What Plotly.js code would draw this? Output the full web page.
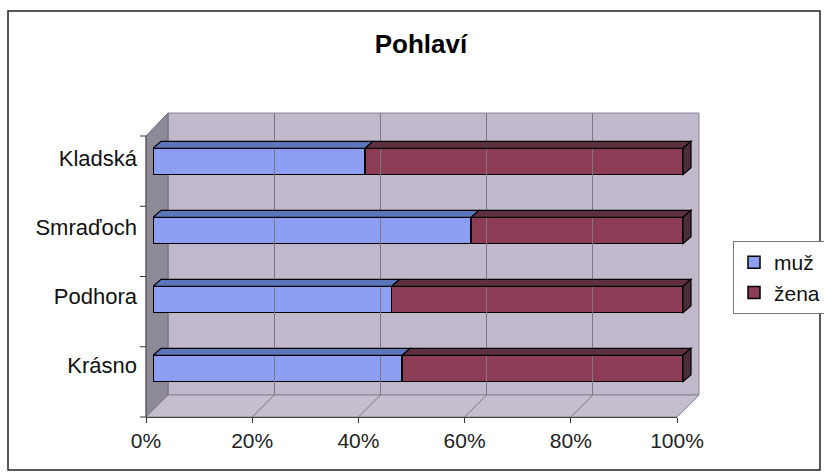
<!DOCTYPE html>
<html>
<head>
<meta charset="utf-8">
<script src="https://cdn.plot.ly/plotly-3.0.1.min.js"></script>
<style>html,body{margin:0;padding:0;background:#fff}#chart{width:824px;height:472px}</style>
</head>
<body>
<div id="chart"></div>
<script>
// ---- data ----
var categories = ['Krásno', 'Podhora', 'Smraďoch', 'Kladská'];
var muz  = [47, 45, 60, 40];
var zena = [53, 55, 40, 60];
var seriesNames = ['muž', 'žena'];
var tickVals = [0, 0.2, 0.4, 0.6, 0.8, 1];
var tickLabels = ['0%', '20%', '40%', '60%', '80%', '100%'];

// ---- geometry helpers (pixels -> paper) ----
var W = 824, H = 472;
function px(x){ return x / W; }
function py(y){ return 1 - y / H; }

var FONT = 'Liberation Sans, Arial, sans-serif';
var colMuz = '#8c9ff2', colZena = '#8c3d55';
var colMuzTop = '#5b76bb', colZenaTop = '#5f3042', colSide = '#4a2e3a';
var wallCol = '#c1b8cb', floorCol = '#c6bece', leftWallCol = '#8e8a97', gridCol = '#7c7784';

// planes
var front = {x0:146, x1:677, y0:136, y1:417};
var back  = {x0:168, x1:699, y0:113, y1:395};
// bar plane
var barX0 = 153, barUnit = 530, xMax = 1.06;
var barYTop = 127, barYBot = 403; // covers -0.5..3.5
var barW = 0.38;
var dxPx = 8, dyPx = 7;
var dx = dxPx / barUnit, dy = dyPx / ((barYBot - barYTop) / 4);

var yPos = categories.map(function(c, i){ return i; });
var fm = muz.map(function(v){ return v / 100; });
var fz = zena.map(function(v){ return v / 100; });

var traces = [
  {type:'bar', orientation:'h', name:seriesNames[0], x:fm, y:yPos, width:barW,
   marker:{color:colMuz, line:{color:'#000', width:1.5}}, xaxis:'x', yaxis:'y',
   legendgroup:'a', hoverinfo:'skip'},
  {type:'bar', orientation:'h', name:seriesNames[1], x:fz, y:yPos, width:barW,
   marker:{color:colZena, line:{color:'#000', width:1.5}}, xaxis:'x', yaxis:'y',
   legendgroup:'b', hoverinfo:'skip'}
];

var shapes = [];
// back wall
shapes.push({type:'rect', xref:'paper', yref:'paper', x0:px(back.x0), x1:px(back.x1), y0:py(back.y1), y1:py(back.y0),
  fillcolor:wallCol, line:{color:'#8a8592', width:1}, layer:'below'});
// floor
shapes.push({type:'path', xref:'paper', yref:'paper', layer:'below',
  path:'M'+px(front.x0)+','+py(front.y1)+' L'+px(front.x1)+','+py(front.y1)+' L'+px(back.x1)+','+py(back.y1)+' L'+px(back.x0)+','+py(back.y1)+' Z',
  fillcolor:floorCol, line:{color:'#8a8592', width:1}});
// left wall
shapes.push({type:'path', xref:'paper', yref:'paper', layer:'below',
  path:'M'+px(front.x0)+','+py(front.y0)+' L'+px(back.x0)+','+py(back.y0)+' L'+px(back.x0)+','+py(back.y1)+' L'+px(front.x0)+','+py(front.y1)+' Z',
  fillcolor:leftWallCol, line:{color:'#6e6a76', width:1}});
// floor grid diagonals
tickVals.forEach(function(t){
  var fx = front.x0 + t * (front.x1 - front.x0);
  var bx = back.x0 + t * (back.x1 - back.x0);
  shapes.push({type:'line', xref:'paper', yref:'paper', layer:'below',
    x0:px(fx), y0:py(front.y1), x1:px(bx), y1:py(back.y1), line:{color:gridCol, width:1}});
});
// left category ticks on front edge of left wall
for (var k = 0; k <= categories.length; k++) {
  var yy = front.y0 + k * (front.y1 - front.y0) / categories.length;
  shapes.push({type:'line', xref:'paper', yref:'paper', layer:'above',
    x0:px(front.x0 - 6), x1:px(front.x0), y0:py(yy), y1:py(yy), line:{color:'#333', width:1}});
}
shapes.push({type:'line', xref:'paper', yref:'paper', layer:'above',
  x0:px(front.x0), x1:px(front.x0), y0:py(front.y0), y1:py(front.y1), line:{color:'#555', width:1}});

// 3D faces of bars (data coordinates)
yPos.forEach(function(y, i){
  var yt = y + barW / 2, yb = y - barW / 2;
  function face(x0, x1, col){
    shapes.push({type:'path', xref:'x', yref:'y', layer:'above',
      path:'M'+x0+','+yt+' L'+x1+','+yt+' L'+(x1+dx)+','+(yt+dy)+' L'+(x0+dx)+','+(yt+dy)+' Z',
      fillcolor:col, line:{color:'#000', width:1.2}});
  }
  face(0, fm[i], colMuzTop);
  face(fm[i], fm[i] + fz[i], colZenaTop);
  var xe = fm[i] + fz[i];
  shapes.push({type:'path', xref:'x', yref:'y', layer:'above',
    path:'M'+xe+','+yb+' L'+xe+','+yt+' L'+(xe+dx)+','+(yt+dy)+' L'+(xe+dx)+','+(yb+dy)+' Z',
    fillcolor:colSide, line:{color:'#000', width:1.2}});
});

// outer frame
shapes.push({type:'rect', xref:'paper', yref:'paper', x0:px(8), x1:px(820), y0:py(470), y1:py(11),
  line:{color:'#222', width:1.5}, fillcolor:'rgba(0,0,0,0)', layer:'above'});

var layout = {
  width:W, height:H, margin:{l:0, r:0, t:0, b:0, autoexpand:false},
  paper_bgcolor:'#fff', plot_bgcolor:'rgba(0,0,0,0)',
  barmode:'stack', showlegend:true,
  font:{family:FONT, color:'#000', size:21},
  title:{text:'<b>Pohlaví</b>', font:{family:FONT, size:26, color:'#000'},
    x:px(421), y:py(44), xanchor:'center', yanchor:'middle', xref:'paper', yref:'paper'},
  xaxis:{domain:[px(barX0), px(barX0 + barUnit * xMax)], range:[0, xMax], anchor:'y',
    showgrid:false, zeroline:false, showticklabels:false, showline:false, fixedrange:true},
  yaxis:{domain:[py(barYBot), py(barYTop)], range:[-0.5, 3.5], anchor:'x',
    tickvals:yPos, ticktext:categories, ticks:'', showgrid:false, zeroline:false, showline:false,
    ticklabelstandoff:15, ticklabelshift:-3, tickfont:{size:22, family:FONT, color:'#111'}},
  xaxis2:{domain:[px(front.x0), px(front.x1)], range:[0, 1], anchor:'y2',
    tickvals:tickVals, ticktext:tickLabels, ticks:'outside', ticklen:5, tickcolor:'#333',
    showline:true, linecolor:'#444', linewidth:1, showgrid:false, zeroline:false,
    tickfont:{size:21, family:FONT, color:'#222'}},
  yaxis2:{domain:[py(front.y1), py(front.y0)], range:[0, 1], anchor:'x2', visible:false},
  xaxis3:{domain:[px(back.x0), px(back.x1)], range:[0, 1], anchor:'y3',
    tickvals:tickVals, showgrid:true, gridcolor:gridCol, gridwidth:1, showticklabels:false,
    ticks:'', zeroline:false, showline:false},
  yaxis3:{domain:[py(back.y1), py(back.y0)], range:[0, 1], anchor:'x3', visible:false, showgrid:false},
  legend:{x:px(733), y:py(241), xanchor:'left', yanchor:'top', bgcolor:'#fff',
    bordercolor:'#777', borderwidth:1, traceorder:'normal', tracegroupgap:10, itemwidth:30,
    font:{size:21, family:FONT, color:'#111'}},
  shapes:shapes
};
// dummy traces for the back-wall grid subplot and the floor axis subplot
traces.push({type:'scatter', x:[0], y:[0], xaxis:'x3', yaxis:'y3', mode:'markers', marker:{opacity:0}, showlegend:false, hoverinfo:'skip'});
traces.push({type:'scatter', x:[0], y:[0], xaxis:'x2', yaxis:'y2', mode:'markers', marker:{opacity:0}, showlegend:false, hoverinfo:'skip'});

Plotly.newPlot('chart', traces, layout, {staticPlot:true, displayModeBar:false});
</script>
</body>
</html>
